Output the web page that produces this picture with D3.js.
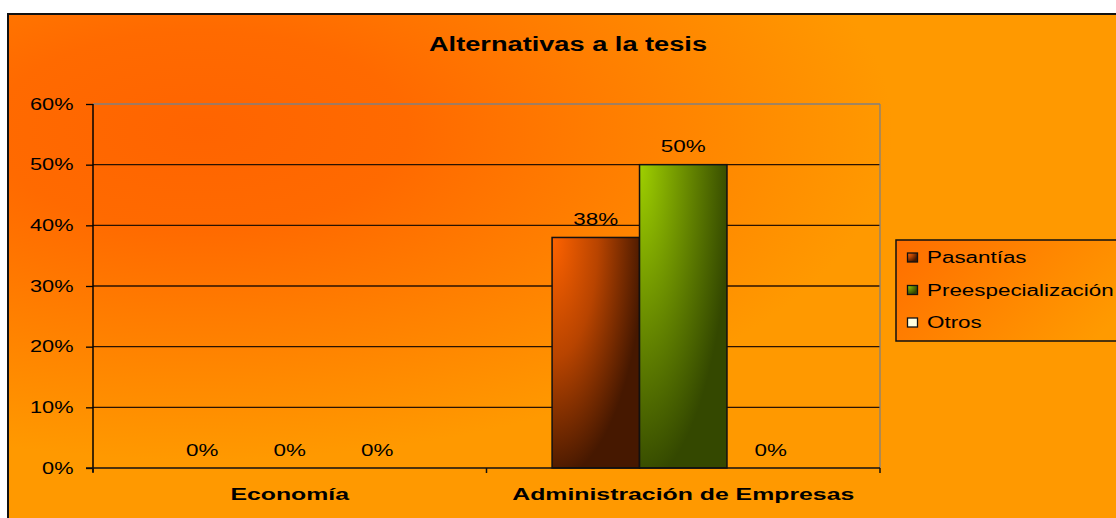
<!DOCTYPE html>
<html><head><meta charset="utf-8">
<script src="https://cdn.jsdelivr.net/npm/d3@7/dist/d3.min.js"></script>
<style>
body{margin:0;background:#fff;}
svg{display:block;font-family:"Liberation Sans",Arial,sans-serif;}
</style></head>
<body><svg id="c" width="1116" height="518"></svg>
<script>
const title = "Alternativas a la tesis";
const categories = ["Economía", "Administración de Empresas"];
const seriesNames = ["Pasantías", "Preespecialización", "Otros"];
const pasantias = [0, 0.38];
const preespecializacion = [0, 0.50];
const otros = [0, 0];
const yTicks = [0, 0.1, 0.2, 0.3, 0.4, 0.5, 0.6];

const seriesValues = [pasantias, preespecializacion, otros];
const SX = 1.36; // horizontal text stretch like the original rendering

const svg = d3.select("#c");
const defs = svg.append("defs");

// background gradient
const bg = defs.append("radialGradient").attr("id","bg")
  .attr("gradientUnits","userSpaceOnUse").attr("cx",200).attr("cy",130).attr("r",330)
  .attr("fx",200).attr("fy",130)
  .attr("gradientTransform","translate(200,130) scale(2.1,1) translate(-200,-130)");
bg.append("stop").attr("offset",0).attr("stop-color","#ff6400");
bg.append("stop").attr("offset",0.3).attr("stop-color","#ff6a00");
bg.append("stop").attr("offset",1).attr("stop-color","#ff9900");

const lg = defs.append("linearGradient").attr("id","lg").attr("x1",0).attr("x2",1).attr("y1",0).attr("y2",0.4);
lg.append("stop").attr("offset",0).attr("stop-color","#ff6e00");
lg.append("stop").attr("offset",1).attr("stop-color","#ff9a00");

function barGrad(id, c0, c1, c2){
  const g = defs.append("radialGradient").attr("id",id)
    .attr("cx",0).attr("cy",0).attr("fx",0).attr("fy",0).attr("r",1.05);
  g.append("stop").attr("offset",0).attr("stop-color",c0);
  g.append("stop").attr("offset",0.5).attr("stop-color",c1);
  g.append("stop").attr("offset",1).attr("stop-color",c2);
}
barGrad("g0","#ff6300","#b84400","#461800");
barGrad("g1","#9fd000","#6a8c00","#344800");
const fills = ["url(#g0)","url(#g1)","#ffffe0"];

// chart background + border
svg.append("rect").attr("x",8).attr("y",14).attr("width",1130).attr("height",530)
  .attr("fill","url(#bg)").attr("stroke","#111").attr("stroke-width",2);

// title
svg.append("text").attr("transform",`translate(568,51) scale(${SX},1)`)
  .attr("text-anchor","middle").attr("font-size",20).attr("font-weight","bold")
  .attr("fill","#000").text(title);

const plot = {left:93, right:880, top:104, bottom:468};
const y = d3.scaleLinear().domain([0,0.6]).range([plot.bottom, plot.top]);
const x = d3.scaleBand().domain(categories).range([plot.left, plot.right]).padding(0);
const xs = d3.scaleBand().domain(seriesNames).range([0, x.bandwidth()]).paddingInner(0).paddingOuter(0.75);

const g = svg.append("g");

// gridlines
g.selectAll(".grid").data(yTicks.filter(t=>t>0)).join("line")
  .attr("x1",plot.left).attr("x2",plot.right)
  .attr("y1",d=>y(d)).attr("y2",d=>y(d))
  .attr("stroke",d=>d===0.6?"#808080":"#2a1200").attr("stroke-width",1.3);
// plot right border
g.append("line").attr("x1",plot.right).attr("x2",plot.right).attr("y1",plot.top).attr("y2",plot.bottom)
  .attr("stroke","#808080").attr("stroke-width",1.3);

// y axis
const yAxis = d3.axisLeft(y).tickValues(yTicks).tickFormat(d3.format(".0%")).tickSize(7).tickPadding(7.5);
const ya = g.append("g").attr("transform",`translate(${plot.left},0)`).call(yAxis);
ya.select(".domain").remove();
ya.append("line").attr("x1",0).attr("x2",0).attr("y1",plot.top).attr("y2",plot.bottom+4).attr("stroke","#000").attr("stroke-width",1.5);
ya.selectAll(".tick line").attr("stroke","#000").attr("stroke-width",1.3);
ya.selectAll(".tick text").attr("font-size",16).attr("fill","#000")
  .attr("font-family","Liberation Sans, Arial, sans-serif")
  .each(function(){
    const t=d3.select(this); const tx=+t.attr("x");
    t.attr("x",null).attr("transform",`translate(${tx-5},0) scale(${SX},1)`);
  });

// bars
seriesNames.forEach((s,si)=>{
  const vals = seriesValues[si];
  const bars = g.append("g");
  bars.selectAll("rect").data(categories.map((c,i)=>({c,v:vals[i]})).filter(d=>d.v>0)).join("rect")
    .attr("x",d=>x(d.c)+xs(s)).attr("width",xs.bandwidth())
    .attr("y",d=>y(d.v)).attr("height",d=>y(0)-y(d.v))
    .attr("fill",fills[si]).attr("stroke","#111").attr("stroke-width",1.5);
  bars.selectAll("text").data(categories.map((c,i)=>({c,v:vals[i]}))).join("text")
    .attr("transform",d=>`translate(${x(d.c)+xs(s)+xs.bandwidth()/2},${y(d.v)-12.5}) scale(${SX},1)`)
    .attr("text-anchor","middle").attr("font-size",16.5).attr("fill","#000")
    .text(d=>d3.format(".0%")(d.v));
});

// x axis
g.append("line").attr("x1",plot.left-7).attr("x2",plot.right).attr("y1",plot.bottom).attr("y2",plot.bottom)
  .attr("stroke","#111").attr("stroke-width",1.5);
const bounds = categories.map(c=>x(c)).concat([x(categories[categories.length-1])+x.bandwidth()]);
g.selectAll(".xt").data(bounds).join("line")
  .attr("x1",d=>d).attr("x2",d=>d).attr("y1",plot.bottom).attr("y2",plot.bottom+5)
  .attr("stroke","#111").attr("stroke-width",1.5);
g.selectAll(".xl").data(categories).join("text")
  .attr("transform",d=>`translate(${x(d)+x.bandwidth()/2},${plot.bottom+32}) scale(1.46,1)`)
  .attr("text-anchor","middle").attr("font-size",17).attr("font-weight","bold").attr("fill","#000")
  .text(d=>d);

// legend
const leg = svg.append("g");
leg.append("rect").attr("x",896).attr("y",240).attr("width",260).attr("height",101)
  .attr("fill","url(#lg)").attr("stroke","#111").attr("stroke-width",1.5);
seriesNames.forEach((s,i)=>{
  const yy = 263 + i*32.5;
  leg.append("rect").attr("x",907.5).attr("y",yy-10).attr("width",10).attr("height",9)
    .attr("fill",fills[i]).attr("stroke","#111").attr("stroke-width",1.3);
  leg.append("text").attr("transform",`translate(927,${yy}) scale(1.4,1)`)
    .attr("font-size",16).attr("fill","#000").text(s);
});
</script>
</body></html>
